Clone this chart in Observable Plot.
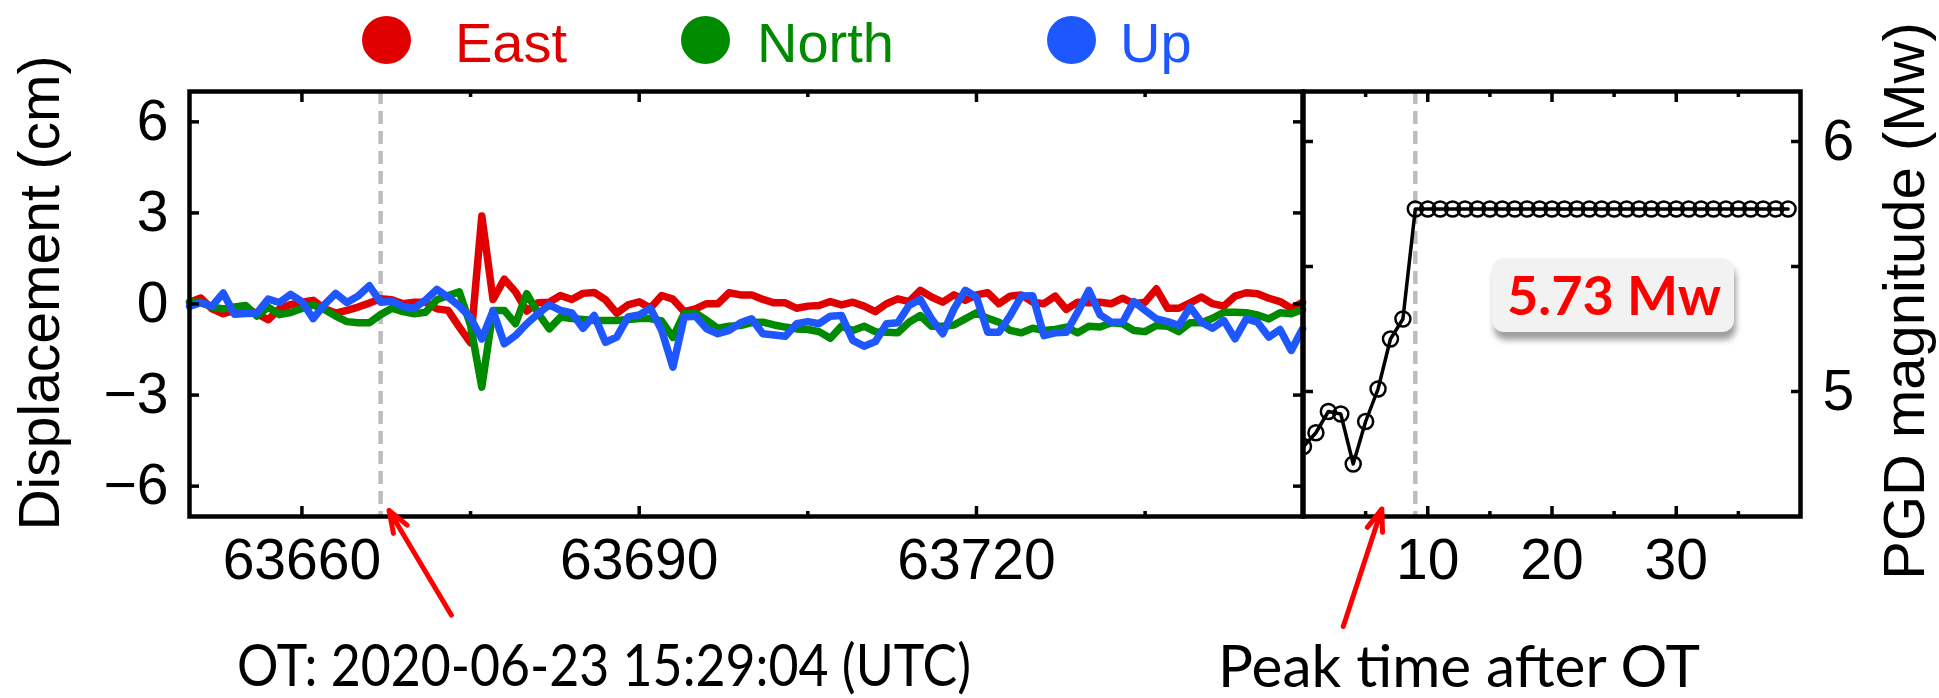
<!DOCTYPE html>
<html>
<head>
<meta charset="utf-8">
<script src="https://cdn.jsdelivr.net/npm/d3@7"></script>
<script src="https://cdn.jsdelivr.net/npm/@observablehq/plot@0.6"></script>
<style>
  html, body { margin: 0; padding: 0; background: #fff; overflow: hidden; }
  #wrap { position: relative; width: 1939px; height: 698px; overflow: hidden; background: #fff; }
  #wrap > svg { position: absolute; top: 0; }
  .box { position: absolute; background: #f2f2f2; border-radius: 12px; box-shadow: 2px 8px 6px rgba(0,0,0,0.38); }
  .dotc { position: absolute; border-radius: 50%; }
</style>
</head>
<body>
<div id="wrap"></div>
<script>
// ---------------- data ----------------
const t0 = 63650;                       // first epoch (s), 1 Hz sampling
const seriesNames = ["East", "North", "Up"];
const seriesColors = ["#e00000", "#008a00", "#1f57ff"];

const east = [0.06,0.20,-0.16,-0.32,-0.21,-0.14,-0.32,-0.52,-0.16,-0.02,
  0.06,0.12,-0.16,-0.30,-0.21,-0.10,0.03,0.17,0.14,0.01,
  0.06,0.06,-0.16,-0.21,-0.76,-1.28,2.90,0.15,0.82,0.40,
  -0.23,0.04,0.06,0.28,0.15,0.35,0.38,0.14,-0.30,-0.03,
  0.07,-0.13,0.28,0.16,-0.25,-0.16,0.01,0.01,0.37,0.30,
  0.30,0.15,0.04,0.04,-0.14,-0.07,-0.05,0.08,-0.03,0.06,
  -0.07,-0.25,0.01,0.17,0.08,0.45,0.23,0.06,0.30,0.12,
  0.30,0.37,0.01,0.26,0.30,0.06,0.01,0.26,-0.18,0.06,
  0.04,0.06,0.01,0.19,0.01,0.06,0.50,-0.14,-0.14,0.04,
  0.23,0.01,-0.07,0.26,0.37,0.34,0.19,0.08,-0.14,0.06];

const north = [0.06,0.06,-0.10,-0.16,-0.10,-0.05,-0.40,-0.10,-0.35,-0.28,
  -0.15,-0.03,-0.18,-0.40,-0.58,-0.62,-0.62,-0.35,-0.14,-0.25,
  -0.32,-0.27,0.14,0.28,0.40,-0.70,-2.74,-0.21,-0.21,-0.65,
  0.34,-0.30,-0.82,-0.43,-0.48,-0.51,-0.54,-0.54,-0.54,-0.51,
  -0.48,-0.48,-0.56,-1.10,-0.32,-0.29,-0.54,-0.80,-0.73,-0.71,
  -0.61,-0.60,-0.69,-0.76,-0.82,-0.84,-0.91,-1.13,-0.73,-0.87,
  -0.73,-0.91,-0.93,-0.95,-0.60,-0.38,-0.73,-0.73,-0.69,-0.49,
  -0.29,-0.47,-0.60,-0.87,-0.95,-0.80,-0.87,-0.84,-0.76,-0.95,
  -0.73,-0.76,-0.62,-0.65,-0.87,-0.91,-0.71,-0.73,-0.91,-0.62,
  -0.62,-0.47,-0.27,-0.27,-0.29,-0.36,-0.49,-0.29,-0.32,-0.18];

const up = [-0.08,0.04,-0.07,0.36,-0.34,-0.31,-0.30,0.16,0.05,0.32,
  0.08,-0.48,-0.02,0.35,0.05,0.26,0.60,0.06,0.09,-0.08,
  -0.14,0.13,0.48,0.23,-0.07,-0.45,-1.15,-0.23,-1.31,-1.04,
  -0.65,-0.32,-0.03,-0.21,-0.29,-0.80,-0.38,-1.26,-1.09,-0.43,
  -0.36,-0.14,-0.87,-2.08,-0.43,-0.40,-0.82,-0.98,-0.87,-0.62,
  -0.49,-0.98,-1.02,-1.06,-0.65,-0.58,-0.65,-0.40,-0.38,-1.20,
  -1.39,-1.24,-0.65,-0.62,-0.05,0.15,-0.49,-0.98,-0.16,0.45,
  0.23,-0.93,-0.93,-0.38,0.26,0.27,-1.04,-0.95,-0.93,-0.27,
  0.45,-0.36,-0.60,-0.60,0.08,-0.21,-0.49,-0.58,-0.71,-0.10,
  -0.60,-0.80,-0.54,-1.15,-0.49,-0.60,-1.09,-0.84,-1.53,-0.82];

const timeDomain = [63650, 63749];
const dispDomain = [-7, 7];
const xMajorTicks = [63660, 63690, 63720];
const xMinorTicks = [63675, 63705, 63735];
const yTicks = [-6, -3, 0, 3, 6];
const otTime = 63667;
const otLabel = "OT: 2020-06-23 15:29:04 (UTC)";
const otArrow = [{x1: 63673.3, y1: -10.25, x2: 63667.75, y2: -6.8}];

// PGD magnitude vs. time after OT
const magTime = [0,1,2,3,4,5,6,7,8,9,10,11,12,13,14,15,16,17,18,19,20,21,22,23,24,25,26,27,28,29,30,31,32,33,34,35,36,37,38,39];
const magValue = [4.78,4.835,4.92,4.91,4.71,4.88,5.01,5.21,5.29,5.73,
  5.73,5.73,5.73,5.73,5.73,5.73,5.73,5.73,5.73,5.73,
  5.73,5.73,5.73,5.73,5.73,5.73,5.73,5.73,5.73,5.73,
  5.73,5.73,5.73,5.73,5.73,5.73,5.73,5.73,5.73,5.73];
const peakTime = 9;
const finalMag = 5.73;
const magXDomain = [0, 40];
const magYDomain = [4.5, 6.2];
const magXMajor = [10, 20, 30];
const magXMinor = [5, 15, 25, 35];
const magYTicks = [5, 5.5, 6];
const magYLabels = [5, 6];
const peakLabel = "Peak time after OT";
const peakArrow = [{x1: 3.2, y1: 4.06, x2: 6.3, y2: 4.53}];

// ---------------- build ----------------
const wrap = document.getElementById("wrap");
const font = '"Liberation Sans", Arial, Helvetica, sans-serif';
const TS = 57;
const dashStyle = {stroke: "#bdbdbd", strokeWidth: 4.5, strokeDasharray: "13,7"};
const tickW = 3.5;
const blank = () => "";

const rows = [];
[east, north, up].forEach((arr, s) => arr.forEach((v, i) => rows.push({t: t0 + i, v, comp: seriesNames[s]})));

const leftPlot = Plot.plot({
  width: 1310, height: 698,
  marginLeft: 189, marginRight: 8, marginTop: 91, marginBottom: 182,
  style: {background: "transparent", overflow: "visible", fontFamily: font, color: "black"},
  x: {domain: timeDomain},
  y: {domain: dispDomain},
  color: {domain: seriesNames, range: seriesColors},
  marks: [
    Plot.ruleX([otTime], dashStyle),
    Plot.line(rows, {x: "t", y: "v", z: "comp", stroke: "comp", strokeWidth: 7.5}),
    // inward ticks
    Plot.axisX(xMajorTicks, {anchor: "bottom", tickSize: 10, dy: -10, tickFormat: blank, strokeWidth: tickW, label: null}),
    Plot.axisX(xMinorTicks, {anchor: "bottom", tickSize: 5, dy: -5, tickFormat: blank, strokeWidth: tickW, label: null}),
    Plot.axisX(xMajorTicks, {anchor: "top", tickSize: 10, dy: 10, tickFormat: blank, strokeWidth: tickW, label: null}),
    Plot.axisX(xMinorTicks, {anchor: "top", tickSize: 5, dy: 5, tickFormat: blank, strokeWidth: tickW, label: null}),
    Plot.axisY(yTicks, {anchor: "left", tickSize: 10, dx: 10, tickFormat: blank, strokeWidth: tickW, label: null}),
    Plot.axisY(yTicks, {anchor: "right", tickSize: 10, dx: -10, tickFormat: blank, strokeWidth: tickW, label: null}),
    // labels
    Plot.axisX(xMajorTicks, {anchor: "bottom", tickSize: 0, tickPadding: 22, fontSize: TS, tickFormat: d => String(d), label: null}),
    Plot.axisY(yTicks, {anchor: "left", tickSize: 0, tickPadding: 21, fontSize: TS, tickFormat: d => d < 0 ? "\u2212" + Math.abs(d) : String(d), label: null}),
    Plot.text(["Displacement (cm)"], {frameAnchor: "left", text: d => d, rotate: -90, dx: -149, dy: -11, fontSize: 57, lineAnchor: "middle", textAnchor: "middle"}),
    Plot.frame({strokeWidth: 4.5}),
    Plot.arrow(otArrow, {x1: "x1", y1: "y1", x2: "x2", y2: "y2", stroke: "#ff0000", strokeWidth: 5, headLength: 7, headAngle: 40})
  ]
});
leftPlot.style.left = "0px";
wrap.appendChild(leftPlot);

const magRows = magTime.map((t, i) => ({t, m: magValue[i]}));
const rightPlot = Plot.plot({
  width: 739, height: 698,
  marginLeft: 103, marginRight: 139, marginTop: 91, marginBottom: 182,
  style: {background: "transparent", overflow: "visible", fontFamily: font, color: "black"},
  x: {domain: magXDomain},
  y: {domain: magYDomain},
  marks: [
    Plot.ruleX([peakTime], dashStyle),
    Plot.line(magRows, {x: "t", y: "m", stroke: "black", strokeWidth: 3.5, clip: true}),
    Plot.dot(magRows, {x: "t", y: "m", r: 7.5, stroke: "black", strokeWidth: 2.5, fill: "none", clip: true}),
    Plot.axisX(magXMajor, {anchor: "bottom", tickSize: 10, dy: -10, tickFormat: blank, strokeWidth: tickW, label: null}),
    Plot.axisX(magXMinor, {anchor: "bottom", tickSize: 5, dy: -5, tickFormat: blank, strokeWidth: tickW, label: null}),
    Plot.axisX(magXMajor, {anchor: "top", tickSize: 10, dy: 10, tickFormat: blank, strokeWidth: tickW, label: null}),
    Plot.axisX(magXMinor, {anchor: "top", tickSize: 5, dy: 5, tickFormat: blank, strokeWidth: tickW, label: null}),
    Plot.axisY(magYTicks, {anchor: "left", tickSize: 10, dx: 10, tickFormat: blank, strokeWidth: tickW, label: null}),
    Plot.axisY(magYTicks, {anchor: "right", tickSize: 10, dx: -10, tickFormat: blank, strokeWidth: tickW, label: null}),
    Plot.axisX(magXMajor, {anchor: "bottom", tickSize: 0, tickPadding: 22, fontSize: TS, tickFormat: d => String(d), label: null}),
    Plot.axisY(magYLabels, {anchor: "right", tickSize: 0, tickPadding: 22, fontSize: TS, tickFormat: d => String(d), label: null}),
    Plot.text(["PGD magnitude (Mw)"], {frameAnchor: "right", text: d => d, rotate: -90, dx: 105, dy: -3, fontSize: 58, lineAnchor: "middle", textAnchor: "middle"}),
    Plot.frame({strokeWidth: 4.5}),
    Plot.arrow(peakArrow, {x1: "x1", y1: "y1", x2: "x2", y2: "y2", stroke: "#ff0000", strokeWidth: 5, headLength: 7, headAngle: 40})
  ]
});
rightPlot.style.left = "1200px";
wrap.appendChild(rightPlot);

// ---------------- HTML text helpers ----------------
function placeText(text, x, baseline, css, targetWidth) {
  const d = document.createElement("div");
  d.style.cssText = "position:absolute;left:0;top:0;white-space:nowrap;line-height:1;transform-origin:0 0;" + css;
  d.appendChild(document.createTextNode(text));
  const probe = document.createElement("span");
  probe.style.cssText = "display:inline-block;width:0;height:0;vertical-align:baseline;";
  d.appendChild(probe);
  wrap.appendChild(d);
  const r = d.getBoundingClientRect();
  const p = probe.getBoundingClientRect();
  const baseOff = p.top - r.top;
  d.style.left = x + "px";
  d.style.top = (baseline - baseOff) + "px";
  if (targetWidth) {
    const s = targetWidth / r.width;
    d.style.transform = `scaleX(${s})`;
  }
  return d;
}

// legend
const legendPos = [{cx: 386, tx: 455}, {cx: 705, tx: 757}, {cx: 1071, tx: 1120}];
seriesNames.forEach((name, i) => {
  const c = document.createElement("div");
  c.className = "dotc";
  c.style.cssText += `left:${legendPos[i].cx - 24.5}px;top:16px;width:49px;height:48px;background:${seriesColors[i]};`;
  wrap.appendChild(c);
  placeText(name, legendPos[i].tx, 62, `font-family:${font};font-size:56px;color:${seriesColors[i]};`);
});

// bottom annotations
placeText(otLabel, 237, 686, 'font-family:Lato,"Open Sans",sans-serif;font-size:58px;color:#000;', 734);
placeText(peakLabel, 1218, 687, 'font-family:Lato,"Open Sans",sans-serif;font-size:58px;color:#000;', 482);

// magnitude box
const box = document.createElement("div");
box.className = "box";
box.style.cssText += "left:1492px;top:258px;width:242px;height:74px;";
wrap.appendChild(box);
placeText(finalMag.toFixed(2) + " Mw", 1507, 315, 'font-family:Lato,"Open Sans",sans-serif;font-weight:bold;font-size:53px;color:#ff0000;', 214);
</script>
</body>
</html>
